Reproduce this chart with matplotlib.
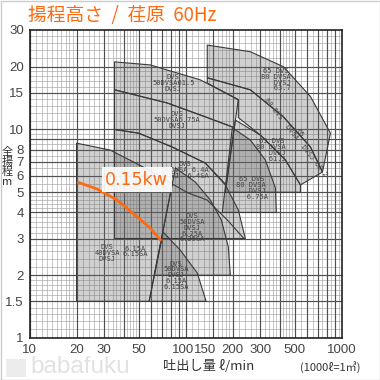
import numpy as np
import matplotlib
matplotlib.use("Agg")
import matplotlib.pyplot as plt
import matplotlib.transforms as mtrans
from matplotlib.patches import Polygon, Rectangle

plt.rcParams['font.family'] = ['Liberation Sans', 'DejaVu Sans']
jp = ['Noto Sans CJK JP', 'DejaVu Sans']

# pump ranges, flow (l/min) and head (m)
q_40_015 = [20, 20, 32.8, 53.4, 81.9, 58.3]
h_40_015 = [1.5, 8.6, 7.97, 6.61, 5.48, 1.5]

q_50_015 = [58.3, 71.7, 92.2, 118.5, 135]
h_50_015 = [1.5, 3.22, 2.64, 2.05, 1.5]

q_50_025 = [62.8, 86, 115, 143.6, 168.9, 187.3, 192.9]
h_50_025 = [2, 6.54, 5.6, 4.59, 3.68, 2.73, 2]

q_50_04 = [35, 35, 50, 81.9, 133.4, 179.2, 217, 240.6]
h_50_04 = [3, 10, 9.6, 8.24, 6.9, 5.42, 4.11, 3]

q_50_075 = [35, 35, 76.1, 133.4, 204.6, 181.8, 133.4, 81.9, 50]
h_50_075 = [10, 15.5, 13.4, 11.5, 10.2, 5.42, 6.9, 8.24, 9.6]

q_50_15 = [35, 35, 59.2, 123.8, 217, 204.6, 133.4, 76.1]
h_50_15 = [15.5, 21.1, 20.4, 17.3, 13.9, 10.2, 11.5, 13.4]

q_65_075 = [171.4, 198.7, 259, 323.3, 374.8, 380]
h_65_075 = [4, 10.2, 8.9, 7.14, 5.24, 4]

q_65_15 = [179.2, 207.6, 300.4, 434.3, 542, 542]
h_65_15 = [5, 11.1, 9.4, 7.14, 5.42, 5]

q_65_22 = [137.3, 259, 421.7, 628, 750, 542, 434.3, 300.4, 217, 217, 137.3]
h_65_22 = [17.7, 15.5, 11.5, 8.24, 6.25, 5.42, 7.14, 9.4, 11.4, 13.9, 16.7]

q_65_37 = [137.3, 137.3, 259, 421.7, 628, 843, 750, 628, 421.7, 259]
h_65_37 = [17.7, 25.4, 23.6, 20, 14.4, 9.6, 6.25, 8.24, 11.5, 15.5]

# extra curve running through the 50DVS block
q_tail = [81.9, 103.7, 137, 184.5, 233.7]
h_tail = [5.48, 4.96, 4.59, 3.68, 3.02]

# highlighted 0.15kw curve
q_015 = [20.2, 27.1, 36.4, 48.9, 59.2, 69.7]
h_015 = [5.6, 5.18, 4.59, 3.81, 3.37, 2.92]

regions = [
    (q_40_015, h_40_015), (q_50_015, h_50_015), (q_50_025, h_50_025),
    (q_50_04, h_50_04), (q_50_075, h_50_075), (q_50_15, h_50_15),
    (q_65_075, h_65_075), (q_65_15, h_65_15), (q_65_22, h_65_22),
    (q_65_37, h_65_37),
]

# model labels: (text, flow, head, rotation)
labels = [
    ("DVS\n40DVSA\nDVSJ", 31.4, 2.56, 0),
    ("6.15A\n6.15SA", 47.4, 2.6, 0),
    ("DVS\n50DVSA\nDVSJ\n6.15A\n6.15SA", 86.9, 2.0, 0),
    ("DVS\n50DVSA\nDVSJ\n6.25A\n6.25SA", 110, 3.37, 0),
    ("DVS\n50DVSA 6.4A\nDVSJ  6.4SA", 99, 6.4, 0),
    ("DVS\n50DVSA6.75A\nDVSJ", 88.3, 11.1, 0),
    ("DVS\n50DVSA61.5\nDVSJ", 83.2, 16.7, 0),
    ("65 DVS\n80 DVSA\n   DVSJ\n   63.7", 375, 17.3, 0),
    ("65\n80 DVS  DVSA  DVSJ 62.2", 520, 9.4, -52),
    ("65 DVS\n80 DVSA\n   DVSJ\n   61.5", 353, 7.97, 0),
    ("65 DVS\n80 DVSA\n   DVSJ\n   6.75A", 263, 5.24, 0),
]

xticks = [10, 20, 30, 50, 100, 150, 200, 300, 500, 1000]
yticks = [1, 1.5, 2, 3, 4, 5, 6, 7, 8, 10, 15, 20, 30]

fig = plt.figure(figsize=(3.8, 3.8), dpi=100)
ax = fig.add_axes([29.5 / 380, 1 - 338 / 380, 312.5 / 380, 308 / 380])
ax.set_xscale('log')
ax.set_yscale('log')
ax.set_xlim(10, 1000)
ax.set_ylim(1, 30)

# log paper grid
xminor, yminor = [], []
for d in [10, 100]:
    xminor += list(np.arange(1, 2, 0.1) * d) + list(np.arange(2, 5, 0.2) * d) + list(np.arange(5, 10, 0.5) * d)
yminor += list(np.arange(1, 2, 0.1)) + list(np.arange(2, 5, 0.2)) + list(np.arange(5, 10, 0.5))
yminor += list(np.arange(10, 20, 1)) + list(np.arange(20, 30, 2))
xmajor = list(range(10, 100, 10)) + [150] + list(range(100, 1000, 100))
ymajor = list(range(1, 10)) + [1.5, 15, 20, 10]
for v in xminor:
    ax.axvline(v, color='#a4a4a4', lw=0.45, zorder=0)
for v in yminor:
    ax.axhline(v, color='#a4a4a4', lw=0.45, zorder=0)
for v in xmajor:
    ax.axvline(v, color='#505050', lw=0.85, zorder=0)
for v in ymajor:
    ax.axhline(v, color='#505050', lw=0.85, zorder=0)

for q, h in regions:
    pts = np.column_stack([q, h])
    ax.add_patch(Polygon(pts, closed=True, facecolor='#666666', alpha=0.3,
                         edgecolor='none', zorder=1))
    ax.add_patch(Polygon(pts, closed=True, facecolor='none',
                         edgecolor='#3a3a3a', lw=0.8, zorder=2))
ax.plot(q_tail, h_tail, color='#3a3a3a', lw=0.8, zorder=2)

for txt, q, h, rot in labels:
    ax.text(q, h, txt, fontsize=5, color='#444444', ha='center', va='center',
            rotation=rot, linespacing=0.95, family='DejaVu Sans Mono', zorder=3)

ax.plot(q_015, h_015, color='#ff6a10', lw=2.0, solid_capstyle='butt', zorder=4)
ax.text(48.5, 5.75, "0.15kw", family='DejaVu Sans', fontsize=12.5, color='#ff6a10',
        ha='center', va='center', zorder=5,
        bbox=dict(boxstyle='square,pad=0.2', facecolor='white', edgecolor='none', alpha=0.9))

ax.set_xticks(xticks)
ax.set_xticklabels([str(v) for v in xticks])
ax.set_yticks(yticks)
ax.set_yticklabels([str(v) for v in yticks])
ax.minorticks_off()
ax.tick_params(length=0, labelsize=9.5, labelcolor='#444444', pad=4)

# crowded labels sit a little to the left, as on the original sheet
shifts = {"100": -3, "150": -8}
for lab in ax.get_xticklabels():
    dx = shifts.get(lab.get_text(), 0)
    if dx:
        lab.set_transform(lab.get_transform() +
                          mtrans.ScaledTranslation(dx / 100, 0, fig.dpi_scale_trans))

for s in ax.spines.values():
    s.set_color('#222222')
    s.set_linewidth(1.2)

fig.text(28 / 380, 1 - 16 / 380, "揚程高さ  /  荏原  60Hz", family=jp, fontsize=13.5,
         color='#ff6a10', ha='left', va='center')
fig.text(7 / 380, 1 - 167 / 380, "全\n揚\n程\nm", family=jp, fontsize=8,
         color='#333333', ha='center', va='center', linespacing=1.0)
fig.text(209 / 380, 1 - 366 / 380, "吐出し量 ℓ/min", family=jp, fontsize=9.5,
         color='#333333', ha='center', va='center')
fig.text(330 / 380, 1 - 367 / 380, "(1000ℓ=1㎥)", family=jp, fontsize=8,
         color='#333333', ha='center', va='center')
fig.text(30 / 380, 1 - 367 / 380, "babafuku", fontsize=17.5, color='#e2e2e2',
         ha='left', va='center')
fig.patches.append(Rectangle((6 / 380, 1 - 377 / 380), 20 / 380, 18 / 380,
                             transform=fig.transFigure, facecolor='#ececec',
                             edgecolor='none'))
fig.patches.append(Rectangle((0.5 / 380, 0.5 / 380), 379 / 380, 379 / 380,
                             transform=fig.transFigure, facecolor='none',
                             edgecolor='#cccccc', lw=1))

fig.savefig("out.png", dpi=100)
